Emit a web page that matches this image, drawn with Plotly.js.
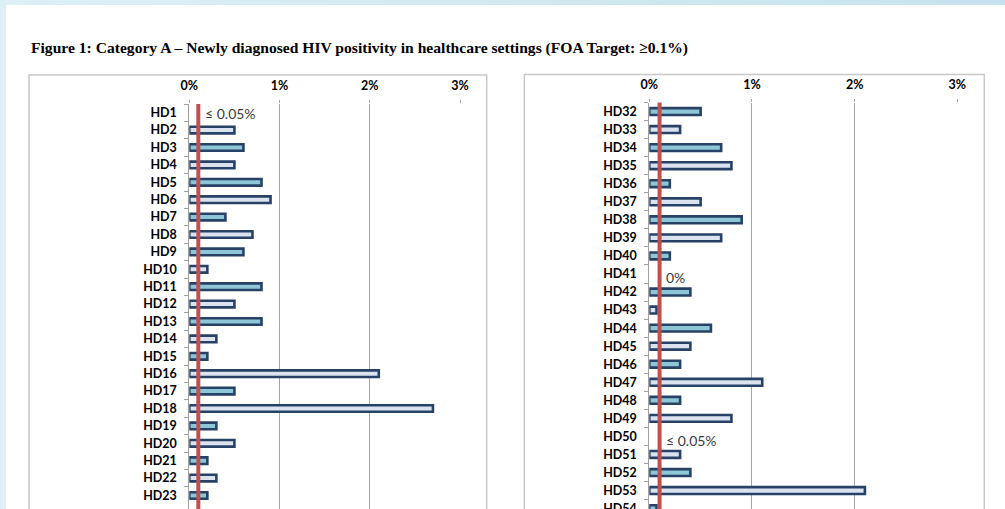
<!DOCTYPE html>
<html>
<head>
<meta charset="utf-8">
<script src="https://cdn.plot.ly/plotly-3.0.1.min.js"></script>
<style>
html,body{margin:0;padding:0;overflow:hidden;width:1005px;height:509px;
background:linear-gradient(90deg,#dcf0f6 0%,#cfe8f0 60%,#c4e3ee 100%);}
#chart{width:1005px;height:509px;}
</style>
</head>
<body>
<div id="chart"></div>
<script>
// ---- data ----
const titleText = 'Figure 1: Category A \u2013 Newly diagnosed HIV positivity in healthcare settings (FOA Target: \u22650.1%)';
const catsL = ['HD1','HD2','HD3','HD4','HD5','HD6','HD7','HD8','HD9','HD10','HD11','HD12','HD13','HD14','HD15','HD16','HD17','HD18','HD19','HD20','HD21','HD22','HD23'];
const valsL = [null,0.5,0.6,0.5,0.8,0.9,0.4,0.7,0.6,0.2,0.8,0.5,0.8,0.3,0.2,2.1,0.5,2.7,0.3,0.5,0.2,0.3,0.2];
const catsR = ['HD32','HD33','HD34','HD35','HD36','HD37','HD38','HD39','HD40','HD41','HD42','HD43','HD44','HD45','HD46','HD47','HD48','HD49','HD50','HD51','HD52','HD53','HD54'];
const valsR = [0.5,0.3,0.7,0.8,0.2,0.5,0.9,0.7,0.2,0,0.4,0.07,0.6,0.4,0.3,1.1,0.3,0.8,null,0.3,0.4,2.1,0.07];
const notesLCats = ['HD1'];
const notesLText = ['\u2264 0.05%'];
const notesRCats = ['HD41','HD50'];
const notesRText = ['0%','\u2264 0.05%'];
const xTickVals = [0,1,2,3];
const xTickText = ['0%','1%','2%','3%'];
const target = 0.1;

// ---- styling / layout helpers ----
const W = 1005, H = 509;
const px = v => v / W;
const py = v => 1 - v / H;
const TEAL = '#8cc6d7', LIGHT = '#dbe2f0', EDGE = '#274266';
const colorsFor = arr => arr.map((_, i) => i % 2 === 0 ? TEAL : LIGHT);
const plotVals = arr => arr.map(v => (v === null || v === 0) ? null : v);

const barStyle = (cats, vals, xa, ya) => ({
  type: 'bar', orientation: 'h', y: cats, x: plotVals(vals),
  xaxis: xa, yaxis: ya, width: 0.38,
  marker: {color: colorsFor(cats), line: {color: EDGE, width: 2.6}},
  hoverinfo: 'skip', showlegend: false
});

const data = [barStyle(catsL, valsL, 'x', 'y'), barStyle(catsR, valsR, 'x2', 'y2')];

const labelFont = {family: 'Lato, "Open Sans", sans-serif', size: 12.5, color: '#000000', weight: 'bold'};

const xaxisBase = {
  side: 'top', range: [0, 3], tickvals: xTickVals, ticktext: xTickText,
  showgrid: true, gridcolor: '#a6a6a6', gridwidth: 1, zeroline: false,
  ticks: 'outside', ticklen: 3, tickcolor: '#a6a6a6',
  tickfont: labelFont, ticklabelstandoff: 5, fixedrange: true, showline: false
};
const yaxisBase = {
  type: 'category', showgrid: false, zeroline: false,
  showline: true, linecolor: '#a0a0a0', linewidth: 1,
  ticks: 'outside', ticklen: 4, tickcolor: '#a0a0a0', tickson: 'boundaries',
  tickfont: labelFont, ticklabelstandoff: 9, fixedrange: true
};

const rowsL = (H - 104) / 17.4;
const rowsR = (H - 102.5) / 18.05;

const layout = {
  width: W, height: H,
  margin: {l: 0, r: 0, t: 0, b: 0, pad: 0},
  paper_bgcolor: 'rgba(0,0,0,0)', plot_bgcolor: 'rgba(0,0,0,0)',
  bargap: 0.6,
  xaxis: Object.assign({}, xaxisBase, {domain: [px(189.3), px(460)], anchor: 'y'}),
  yaxis: Object.assign({}, yaxisBase, {domain: [0, py(104)], anchor: 'x',
    categoryarray: catsL, categoryorder: 'array', range: [rowsL - 0.5, -0.5]}),
  xaxis2: Object.assign({}, xaxisBase, {domain: [px(649.3), px(957.3)], anchor: 'y2'}),
  yaxis2: Object.assign({}, yaxisBase, {domain: [0, py(102.5)], anchor: 'x2',
    categoryarray: catsR, categoryorder: 'array', range: [rowsR - 0.5, -0.5]}),
  shapes: [
    // white page
    {type: 'rect', xref: 'paper', yref: 'paper', x0: px(6), x1: 1.01, y0: py(5), y1: -0.01,
     fillcolor: '#ffffff', line: {width: 0}, layer: 'below'},
    // panel borders
    {type: 'rect', xref: 'paper', yref: 'paper', x0: px(29), x1: px(486.7), y0: py(75), y1: -0.05,
     fillcolor: 'rgba(0,0,0,0)', line: {color: '#c8c8c8', width: 1.5}, layer: 'below'},
    {type: 'rect', xref: 'paper', yref: 'paper', x0: px(524.3), x1: px(984.3), y0: py(74.5), y1: -0.05,
     fillcolor: 'rgba(0,0,0,0)', line: {color: '#c8c8c8', width: 1.5}, layer: 'below'},
    // target lines
    {type: 'line', xref: 'x', yref: 'y domain', x0: target, x1: target, y0: 0, y1: 1,
     line: {color: '#c0504d', width: 4}},
    {type: 'line', xref: 'x2', yref: 'y2 domain', x0: target, x1: target, y0: 0, y1: 1,
     line: {color: '#c0504d', width: 4}}
  ],
  annotations: [
    {xref: 'paper', yref: 'paper', x: px(29), y: py(48), xanchor: 'left', yanchor: 'middle',
     text: titleText, showarrow: false,
     font: {family: '"Liberation Serif", "Times New Roman", serif', size: 15.6, color: '#000', weight: 'bold'}}
  ]
};

const noteFont = {family: 'Lato, "Open Sans", sans-serif', size: 14, color: '#3a3a3a'};
notesLCats.forEach((c, i) => layout.annotations.push({
  xref: 'x', yref: 'y', x: 0.15, y: c, xanchor: 'left', yanchor: 'middle', yshift: -1,
  text: notesLText[i], showarrow: false, font: noteFont}));
notesRCats.forEach((c, i) => layout.annotations.push({
  xref: 'x2', yref: 'y2', x: 0.14, y: c, xanchor: 'left', yanchor: 'middle', yshift: -4,
  text: notesRText[i], showarrow: false, font: noteFont}));

Plotly.newPlot('chart', data, layout, {displayModeBar: false, staticPlot: true});
</script>
</body>
</html>
